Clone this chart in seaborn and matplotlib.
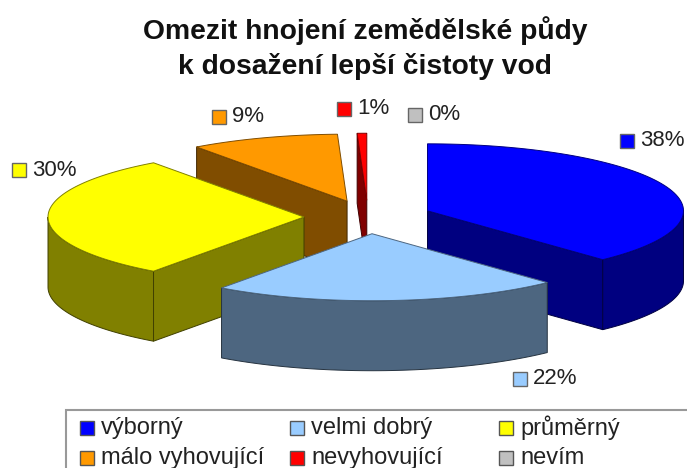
import numpy as np
import matplotlib
matplotlib.use("Agg")
import matplotlib.pyplot as plt
from matplotlib.patches import Rectangle
import seaborn as sns

categories = ["výborný", "velmi dobrý", "průměrný", "málo vyhovující", "nevyhovující", "nevím"]
values = [38, 22, 30, 9.4, 0.6, 0]
colors = ["#0000FF", "#99CCFF", "#FFFF00", "#FF9900", "#FF0000", "#C0C0C0"]
title = "Omezit hnojení zemědělské půdy\nk dosažení lepší čistoty vod"

# pie layout, in pixels of the picture
CX, CY = 368, 217
RX, RY = 256, 67
DEPTH = 70
EXPLODE = 64

# where each percent label sits (left edge of the swatch, centre y)
label_x = [620, 513, 12, 212, 337, 408]
label_y = [141, 379, 170, 117, 109, 115]

# legend cells
legend_x = [80, 290, 499]
legend_y = [428, 458]

sns.set_theme(style="white")
plt.rcParams["font.family"] = ["Liberation Sans", "DejaVu Sans"]
palette = sns.color_palette(colors)

fig, ax = plt.subplots(figsize=(6.87, 4.68), dpi=100)
ax.set_position([0, 0, 1, 1])
ax.set_xlim(0, 687)
ax.set_ylim(468, 0)
ax.axis("off")


def darker(col):
    return tuple(c * 0.5 for c in col)


def rim(ox, oy, deg):
    t = np.radians(deg)
    return ox + RX * np.sin(t), oy - RY * np.cos(t)


def side_quad(ox, oy, deg):
    x, y = rim(ox, oy, deg)
    return [ox, x, x, ox], [oy, y, y + DEPTH, oy + DEPTH]


# work out the slices first, so they can be painted back to front
slices = []
start = 0
for val, col in zip(values, palette):
    end = start + val * 3.6
    if val > 0:
        mid = np.radians((start + end) / 2)
        ox = CX + EXPLODE * np.sin(mid)
        oy = CY - EXPLODE * RY / RX * np.cos(mid)
        slices.append((oy, ox, start, end, col))
    start = end

for oy, ox, start, end, col in sorted(slices, key=lambda s: s[0]):
    dark = darker(col)
    line = darker(dark)

    # cut faces, only the ones turned towards us
    if np.cos(np.radians(start - 90)) < -1e-9:
        ax.fill(*side_quad(ox, oy, start), fc=dark, ec=line, lw=0.7)
    if np.cos(np.radians(end + 90)) < -1e-9:
        ax.fill(*side_quad(ox, oy, end), fc=dark, ec=line, lw=0.7)

    # outer wall, front half of the ellipse only
    a, b = max(start, 90), min(end, 270)
    if a < b:
        xs, ys = rim(ox, oy, np.linspace(a, b, 60))
        ax.fill(np.r_[xs, xs[::-1]], np.r_[ys, ys[::-1] + DEPTH], fc=dark, ec=line, lw=0.7)

    # top
    xs, ys = rim(ox, oy, np.linspace(start, end, 80))
    ax.fill(np.r_[ox, xs], np.r_[oy, ys], fc=col, ec=dark, lw=0.7)

ax.text(365, 48, title, ha="center", va="center", fontsize=20.3, fontweight="bold",
        color="#111111", linespacing=1.4)

# percent labels with their colour swatch
for val, col, x, y in zip(values, palette, label_x, label_y):
    ax.add_patch(Rectangle((x, y - 7), 14, 14, fc=col, ec="#666666", lw=1))
    ax.text(x + 20, y, f"{val:.0f}%", ha="left", va="center", fontsize=16, color="#222222")

# legend box runs off the right and bottom of the picture
ax.add_patch(Rectangle((66, 410), 640, 80, fc="white", ec="#999999", lw=1.5))
for i, (name, col) in enumerate(zip(categories, palette)):
    x = legend_x[i % 3]
    y = legend_y[i // 3]
    ax.add_patch(Rectangle((x, y - 7), 14, 14, fc=col, ec="#555555", lw=1))
    ax.text(x + 21, y, name, ha="left", va="center", fontsize=17, color="#222222")

fig.savefig("out.png", dpi=100)
